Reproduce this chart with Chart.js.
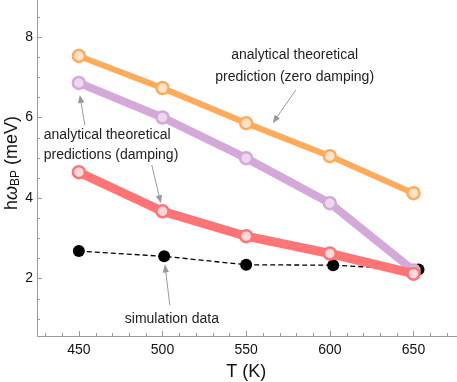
<!DOCTYPE html>
<html>
<head>
<meta charset="utf-8">
<script src="https://cdn.jsdelivr.net/npm/chart.js@4"></script>
<style>
  html, body { margin: 0; padding: 0; background: #fff; }
  #wrap { width: 457px; height: 382px; }
</style>
</head>
<body>
<div id="wrap"><canvas id="c" width="457" height="382"></canvas></div>
<script>
// data
const temps = [450, 500, 550, 600, 650];
const zeroDamping = [7.53, 6.73, 5.86, 5.04, 4.12];
const dampingA = [6.86, 6.0, 4.99, 3.87, 2.2];
const dampingB = [4.64, 3.67, 3.05, 2.62, 2.12];
const simTemps = [450, 501, 550, 602, 653];
const simValues = [2.68, 2.55, 2.34, 2.33, 2.22];
const xTicks = [450, 500, 550, 600, 650];
const yTicks = [2, 4, 6, 8];

// annotation text + arrows, in data coordinates
const notes = [
  { lines: ['analytical theoretical', 'prediction (zero damping)'], x: 579, y: [7.55, 7.0], align: 'center' },
  { lines: ['analytical theoretical', 'predictions (damping)'], x: 429, y: [5.56, 5.06], align: 'left' },
  { lines: ['simulation data'], x: 505.6, y: [0.99], align: 'center' },
];
const arrows = [
  [579.6, 6.68, 565.9, 5.86],
  [453.6, 5.81, 450.6, 6.56],
  [493.6, 4.82, 499.0, 3.87],
  [504.4, 1.33, 501.4, 2.35],
];

const pts = (xs, ys) => xs.map((x, i) => ({ x, y: ys[i] }));
const FONT = '"Liberation Sans", Arial, sans-serif';

function arrow(ctx, x1, y1, x2, y2) {
  const a = Math.atan2(y2 - y1, x2 - x1), L = 8, W = 3.2;
  ctx.beginPath(); ctx.moveTo(x1, y1);
  ctx.lineTo(x2 - Math.cos(a) * L * 0.8, y2 - Math.sin(a) * L * 0.8); ctx.stroke();
  ctx.beginPath(); ctx.moveTo(x2, y2);
  ctx.lineTo(x2 - Math.cos(a) * L - Math.sin(a) * W, y2 - Math.sin(a) * L + Math.cos(a) * W);
  ctx.lineTo(x2 - Math.cos(a) * L + Math.sin(a) * W, y2 - Math.sin(a) * L - Math.cos(a) * W);
  ctx.closePath(); ctx.fill();
}

const frame = {
  id: 'frame',
  beforeDatasetsDraw(chart) {
    const { ctx, chartArea: a, scales: { x, y } } = chart;
    ctx.save();
    ctx.strokeStyle = '#9a9a9a'; ctx.lineWidth = 1;
    ctx.beginPath();
    ctx.moveTo(a.left + 0.5, a.top); ctx.lineTo(a.left + 0.5, a.bottom + 0.5);
    ctx.lineTo(a.right, a.bottom + 0.5); ctx.stroke();
    // ticks pointing inward
    ctx.beginPath();
    for (let v = 430; v <= 670; v += 10) {
      const px = Math.round(x.getPixelForValue(v)) + 0.5, len = v % 50 === 0 ? 5 : 3;
      ctx.moveTo(px, a.bottom); ctx.lineTo(px, a.bottom - len);
    }
    for (let v = 1; v <= 8.5; v += 0.5) {
      const py = Math.round(y.getPixelForValue(v)) + 0.5, len = v % 2 === 0 ? 5 : 3;
      ctx.moveTo(a.left, py); ctx.lineTo(a.left + len, py);
    }
    ctx.stroke();
    ctx.restore();
  },
  afterDatasetsDraw(chart) {
    const { ctx, scales: { x, y } } = chart;
    ctx.save();
    ctx.fillStyle = '#222'; ctx.font = '14px ' + FONT; ctx.textBaseline = 'middle';
    notes.forEach(n => {
      ctx.textAlign = n.align;
      n.lines.forEach((t, i) => ctx.fillText(t, x.getPixelForValue(n.x), y.getPixelForValue(n.y[i])));
    });
    ctx.strokeStyle = '#999'; ctx.fillStyle = '#999'; ctx.lineWidth = 1;
    arrows.forEach(([x1, y1, x2, y2]) => arrow(ctx,
      x.getPixelForValue(x1), y.getPixelForValue(y1), x.getPixelForValue(x2), y.getPixelForValue(y2)));
    // axis titles
    ctx.fillStyle = '#111'; ctx.textBaseline = 'middle';
    ctx.font = '18px ' + FONT; ctx.textAlign = 'center';
    ctx.fillText('T (K)', x.getPixelForValue(550), 372);
    ctx.translate(12, 163); ctx.rotate(-Math.PI / 2);
    const parts = [['h', '18px ' + FONT, 0], ['ω', 'italic 18px ' + FONT, 0], ['BP', '12px ' + FONT, 4], [' (meV)', '18px ' + FONT, 0]];
    let w = 0;
    parts.forEach(([t, f]) => { ctx.font = f; w += ctx.measureText(t).width; });
    let cx = -w / 2; ctx.textAlign = 'left';
    parts.forEach(([t, f, dy]) => { ctx.font = f; ctx.fillText(t, cx, dy); cx += ctx.measureText(t).width; });
    ctx.restore();
  }
};

const line = (data, color, fill, width, order, r) => ({
  data, borderColor: color, borderWidth: width, order,
  pointRadius: r, pointBackgroundColor: fill, pointBorderColor: color, pointBorderWidth: 2.5,
  pointHoverRadius: r,
});

const noPad = s => { s.paddingTop = s.paddingBottom = s.paddingLeft = s.paddingRight = 0; };

new Chart(document.getElementById('c'), {
  type: 'line',
  data: {
    datasets: [
      line(pts(temps, dampingB), '#ff7474', '#ffd9d9', 9, 1, 6),
      line(pts(temps, dampingA), '#d4a8d8', '#ecd7ee', 8, 2, 6),
      line(pts(temps, zeroDamping), '#ffab5c', '#ffe2c8', 6, 3, 6),
      { data: pts(simTemps, simValues), borderColor: '#000', borderWidth: 1.3, borderDash: [5, 3], order: 4,
        pointRadius: 6, pointBackgroundColor: '#000', pointBorderColor: '#000', pointBorderWidth: 0 },
    ]
  },
  options: {
    responsive: false, animation: false,
    layout: { autoPadding: false, padding: 0 },
    plugins: { legend: { display: false }, tooltip: { enabled: false } },
    scales: {
      x: {
        type: 'linear', min: 425, max: 676,
        afterBuildTicks: s => { s.ticks = xTicks.map(v => ({ value: v })); },
        afterFit: s => { s.height = 46; noPad(s); },
        grid: { display: false, drawTicks: false },
        border: { display: false },
        ticks: { color: '#111', font: { size: 14, family: FONT }, padding: 6, maxRotation: 0 },
      },
      y: {
        min: 0.57, max: 8.92,
        afterBuildTicks: s => { s.ticks = yTicks.map(v => ({ value: v })); },
        afterFit: s => { s.width = 37; noPad(s); },
        grid: { display: false, drawTicks: false },
        border: { display: false },
        ticks: { color: '#111', font: { size: 14, family: FONT }, padding: 4 },
      }
    }
  },
  plugins: [frame]
});
</script>
</body>
</html>
